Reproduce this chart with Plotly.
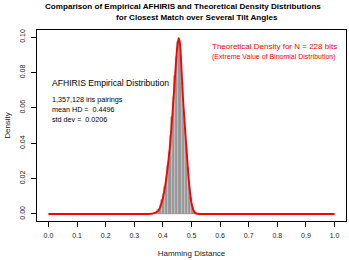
import plotly.graph_objects as go

# Histogram (empirical) - bin centers and heights
bin_centers = [0.3725, 0.3775, 0.3825, 0.3875, 0.3925, 0.3975, 0.4025, 0.4075, 0.4125, 0.4175,
               0.4225, 0.4275, 0.4325, 0.4375, 0.4425, 0.4475, 0.4525, 0.4575, 0.4625, 0.4675,
               0.4725, 0.4775, 0.4825, 0.4875, 0.4925, 0.4975, 0.5025, 0.5075, 0.5125, 0.5175]
bin_heights = [0.0005, 0.001, 0.002, 0.003, 0.005, 0.008, 0.011, 0.015, 0.021, 0.027,
               0.035, 0.044, 0.055, 0.066, 0.078, 0.089, 0.097, 0.098, 0.090, 0.074,
               0.059, 0.048, 0.037, 0.026, 0.016, 0.009, 0.004, 0.002, 0.001, 0.0003]
bin_width = 0.005

# Theoretical density curve
curve_x = [0.0, 0.35, 0.36, 0.37, 0.38, 0.385, 0.39, 0.395, 0.40, 0.405, 0.41, 0.415, 0.42, 0.425,
           0.43, 0.435, 0.44, 0.445, 0.45, 0.455, 0.46, 0.465, 0.47, 0.475, 0.48, 0.485,
           0.49, 0.495, 0.50, 0.505, 0.51, 0.515, 0.52, 0.53, 1.0]
curve_y = [0.0, 0.0, 0.0001, 0.0004, 0.0012, 0.002, 0.0035, 0.006, 0.009, 0.013, 0.018, 0.024,
           0.031, 0.039, 0.049, 0.060, 0.072, 0.084, 0.094, 0.0995, 0.096, 0.082, 0.066,
           0.054, 0.042, 0.031, 0.020, 0.012, 0.006, 0.003, 0.001, 0.0003, 0.0001, 0.0, 0.0]

x_ticks = [0.0, 0.1, 0.2, 0.3, 0.4, 0.5, 0.6, 0.7, 0.8, 0.9, 1.0]
x_labels = ["0.0", "0.1", "0.2", "0.3", "0.4", "0.5", "0.6", "0.7", "0.8", "0.9", "1.0"]
y_ticks = [0.0, 0.02, 0.04, 0.06, 0.08, 0.10]
y_labels = ["0.00", "0.02", "0.04", "0.06", "0.08", "0.10"]

title_lines = ["Comparison of Empirical AFHIRIS and Theoretical Density Distributions",
               "for Closest Match over Several Tilt Angles"]

FONT = "Liberation Sans, Arial, Helvetica, sans-serif"

fig = go.Figure()
fig.add_trace(go.Bar(x=bin_centers, y=bin_heights, width=bin_width,
                     marker=dict(color="#C8C8C8", line=dict(color="#707070", width=0.5)),
                     showlegend=False, hoverinfo="skip"))
fig.add_trace(go.Scatter(x=curve_x, y=curve_y, mode="lines",
                         line=dict(color="#FF0000", width=1.9, shape="spline", smoothing=0.6),
                         showlegend=False, hoverinfo="skip"))

# pixel-positioned annotations: (text, x_px, y_px, size, color, anchor, bold)
notes = [
    (title_lines[0], 183, 6.5, 8.1, "black", "center", True),
    (title_lines[1], 196.5, 17.8, 8.1, "black", "center", True),
    ("Theoretical Density for N = 228 bits", 210, 46, 8, "#FF0000", "left", False),
    ("(Extreme Value of Binomial Distribution)", 210, 57, 7, "#FF0000", "left", False),
    ("AFHIRIS Empirical Distribution", 50, 83, 8.6, "black", "left", False),
    ("1,357,128 iris pairings", 50, 99, 7.2, "black", "left", False),
    ("mean HD =  0.4496", 50, 109.5, 7.2, "black", "left", False),
    ("std dev =  0.0206", 50, 120, 7.2, "black", "left", False),
]

plot_l, plot_t, plot_w, plot_h = 37, 30, 349 - 37 - 3, 260 - 30 - 39
annotations = []
for text, px, py, size, color, anchor, bold in notes:
    annotations.append(dict(
        text=f"<b>{text}</b>" if bold else text,
        x=(px - plot_l) / plot_w, y=1 - (py - plot_t) / plot_h,
        xref="paper", yref="paper", showarrow=False,
        xanchor=anchor, yanchor="middle",
        font=dict(family=FONT, size=size, color=color)))

fig.update_layout(
    width=349, height=260,
    margin=dict(l=37, r=3, t=30, b=39),
    paper_bgcolor="white", plot_bgcolor="white",
    font=dict(family=FONT, size=7, color="black"),
    bargap=0,
    xaxis=dict(range=[-0.04, 1.04], tickvals=x_ticks, ticktext=x_labels,
               showline=True, mirror=True, linecolor="black", linewidth=1,
               ticks="outside", ticklen=5, tickcolor="black", tickwidth=0.8,
               showgrid=False, zeroline=False, ticklabelstandoff=3,
               tickfont=dict(size=7, color="#222222"),
               title=dict(text="Hamming Distance", standoff=11,
                          font=dict(size=8, color="#222222"))),
    yaxis=dict(range=[-0.004, 0.104], tickvals=y_ticks, ticktext=y_labels,
               showline=True, mirror=True, linecolor="black", linewidth=1,
               ticks="outside", ticklen=5, tickcolor="black", tickwidth=0.8,
               showgrid=False, zeroline=False, tickangle=-90, ticklabelstandoff=3,
               tickfont=dict(size=7, color="#222222"),
               title=dict(text="Density", standoff=7,
                          font=dict(size=8, color="#222222"))),
    annotations=annotations,
)

fig.write_html("out.html", config={"displayModeBar": False},
               post_script="document.body.style.margin='0';document.body.style.overflow='hidden';")
